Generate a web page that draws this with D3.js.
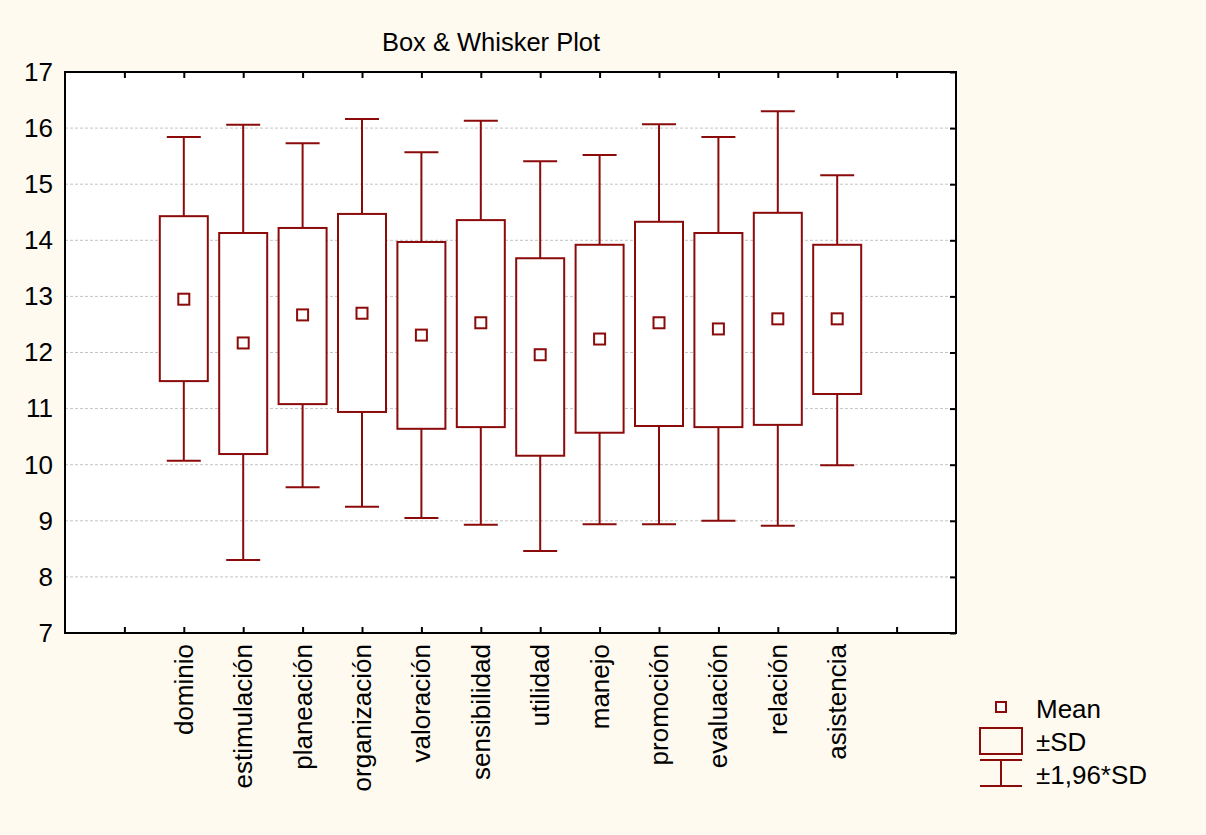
<!DOCTYPE html>
<html><head><meta charset="utf-8">
<script src="https://cdn.jsdelivr.net/npm/d3@7"></script>
<style>
html,body{margin:0;padding:0;background:#FEFAF0;}
svg{display:block;}
text{font-family:Arial,"Liberation Sans",sans-serif;fill:#000;}
</style></head>
<body><svg id="c" width="1206" height="835"></svg>
<script>
const categories = ["dominio","estimulación","planeación","organización","valoración","sensibilidad","utilidad","manejo","promoción","evaluación","relación","asistencia"];
const means    = [12.95,12.17,12.67,12.70,12.31,12.53,11.96,12.24,12.53,12.42,12.60,12.60];
const sdHigh   = [14.43,14.13,14.22,14.47,13.97,14.36,13.68,13.92,14.33,14.13,14.49,13.92];
const sdLow    = [11.49,10.19,11.08,10.94,10.64,10.67,10.16,10.57,10.69,10.67,10.71,11.26];
const ciHigh   = [15.84,16.06,15.73,16.16,15.57,16.13,15.41,15.52,16.07,15.84,16.30,15.16];
const ciLow    = [10.07,8.30,9.60,9.25,9.05,8.93,8.46,8.94,8.94,9.00,8.91,9.99];
const yTicks   = [7,8,9,10,11,12,13,14,15,16,17];
const legendLabels = ["Mean","±SD","±1,96*SD"];
const title = "Box & Whisker Plot";

const col = "#8B0A0A";
const FS = "26px";
const svg = d3.select("#c");
const L = 65, R = 956, T = 72, B = 633;

const x = d3.scaleLinear().domain([0, 15]).range([L, R]);
const y = d3.scaleLinear().domain([7, 17]).range([B, T]);

// plot area
svg.append("rect").attr("x", L).attr("y", T).attr("width", R - L).attr("height", B - T).attr("fill", "#fff");

// grid
svg.append("g").selectAll("line").data(yTicks.filter(d => d > 7 && d < 17)).join("line")
  .attr("x1", L).attr("x2", R).attr("y1", d => y(d)).attr("y2", d => y(d))
  .attr("stroke", "#c4c4c4").attr("stroke-width", 1).attr("stroke-dasharray", "3,2");

// title
svg.append("text").attr("x", 491).attr("y", 51).attr("text-anchor", "middle")
  .style("font-size", "25.5px").text(title);

// left axis
const yAxis = d3.axisLeft(y).tickValues(yTicks).tickSize(0).tickPadding(12).tickFormat(d3.format("d"));
const gy = svg.append("g").attr("transform", `translate(${L},0)`).call(yAxis);
gy.select(".domain").remove();
gy.selectAll("text").style("font-size", FS).style("font-family", "Arial,'Liberation Sans',sans-serif").attr("fill", "#000");

// right axis ticks (inward)
const yAxisR = d3.axisRight(y).tickValues(yTicks).tickSize(-6).tickFormat("");
const gyr = svg.append("g").attr("transform", `translate(${R},0)`).call(yAxisR);
gyr.select(".domain").remove();
gyr.selectAll("line").attr("stroke", "#000").attr("stroke-width", 2);

// bottom/top axis ticks (inward)
const tickSlots = d3.range(1, 15);
const xAxisB = d3.axisBottom(x).tickValues(tickSlots).tickSize(-6).tickFormat("");
const gxb = svg.append("g").attr("transform", `translate(0,${B})`).call(xAxisB);
gxb.select(".domain").remove();
gxb.selectAll("line").attr("stroke", "#000").attr("stroke-width", 2);

const xAxisT = d3.axisTop(x).tickValues(tickSlots).tickSize(-6).tickFormat("");
const gxt = svg.append("g").attr("transform", `translate(0,${T})`).call(xAxisT);
gxt.select(".domain").remove();
gxt.selectAll("line").attr("stroke", "#000").attr("stroke-width", 2);

// category labels
svg.append("g").selectAll("text").data(categories).join("text")
  .attr("transform", (d, i) => `translate(${x(i + 2) + 9},${B + 11}) rotate(-90)`)
  .attr("text-anchor", "end")
  .style("font-size", FS)
  .text(d => d);

// frame
svg.append("rect").attr("x", L).attr("y", T).attr("width", R - L).attr("height", B - T)
  .attr("fill", "none").attr("stroke", "#000").attr("stroke-width", 2);

// boxes
const bw = 48, cw = 34, ms = 11;
const g = svg.append("g").attr("stroke", col).attr("stroke-width", 2).attr("fill", "none");
categories.forEach((c, i) => {
  const cx = x(i + 2);
  g.append("line").attr("x1", cx).attr("x2", cx).attr("y1", y(ciHigh[i])).attr("y2", y(sdHigh[i]));
  g.append("line").attr("x1", cx).attr("x2", cx).attr("y1", y(sdLow[i])).attr("y2", y(ciLow[i]));
  g.append("line").attr("x1", cx - cw / 2).attr("x2", cx + cw / 2).attr("y1", y(ciHigh[i])).attr("y2", y(ciHigh[i]));
  g.append("line").attr("x1", cx - cw / 2).attr("x2", cx + cw / 2).attr("y1", y(ciLow[i])).attr("y2", y(ciLow[i]));
  g.append("rect").attr("x", cx - bw / 2).attr("y", y(sdHigh[i])).attr("width", bw)
    .attr("height", y(sdLow[i]) - y(sdHigh[i])).attr("fill", "#fff");
  g.append("rect").attr("x", cx - ms / 2).attr("y", y(means[i]) - ms / 2).attr("width", ms).attr("height", ms).attr("fill", "#fff");
});

// legend
const lg = svg.append("g");
const lx = 1001;
lg.append("rect").attr("x", lx - 5).attr("y", 702).attr("width", 10).attr("height", 10)
  .attr("fill", "#fff").attr("stroke", col).attr("stroke-width", 2);
lg.append("rect").attr("x", 980).attr("y", 728).attr("width", 42).attr("height", 26)
  .attr("fill", "none").attr("stroke", col).attr("stroke-width", 2);
lg.append("line").attr("x1", 980).attr("x2", 1022).attr("y1", 760).attr("y2", 760).attr("stroke", col).attr("stroke-width", 2);
lg.append("line").attr("x1", 980).attr("x2", 1022).attr("y1", 786).attr("y2", 786).attr("stroke", col).attr("stroke-width", 2);
lg.append("line").attr("x1", lx).attr("x2", lx).attr("y1", 760).attr("y2", 786).attr("stroke", col).attr("stroke-width", 2);
const ly = [718, 751, 784];
lg.selectAll("text.l").data(legendLabels).join("text").attr("class", "l")
  .attr("x", 1036).attr("y", (d, i) => ly[i]).style("font-size", FS).text(d => d);
</script></body></html>
